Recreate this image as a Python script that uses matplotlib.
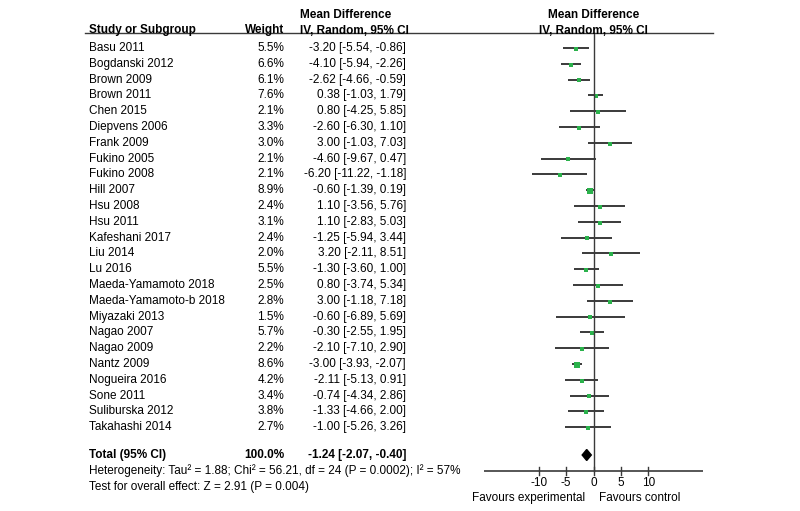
import matplotlib.pyplot as plt
from matplotlib.patches import Polygon

plt.rcParams['font.family'] = ['Liberation Sans', 'DejaVu Sans']

# study data
studies = ["Basu 2011", "Bogdanski 2012", "Brown 2009", "Brown 2011", "Chen 2015",
           "Diepvens 2006", "Frank 2009", "Fukino 2005", "Fukino 2008", "Hill 2007",
           "Hsu 2008", "Hsu 2011", "Kafeshani 2017", "Liu 2014", "Lu 2016",
           "Maeda-Yamamoto 2018", "Maeda-Yamamoto-b 2018", "Miyazaki 2013", "Nagao 2007",
           "Nagao 2009", "Nantz 2009", "Nogueira 2016", "Sone 2011", "Suliburska 2012",
           "Takahashi 2014"]
weights = [5.5, 6.6, 6.1, 7.6, 2.1, 3.3, 3.0, 2.1, 2.1, 8.9, 2.4, 3.1, 2.4, 2.0, 5.5,
           2.5, 2.8, 1.5, 5.7, 2.2, 8.6, 4.2, 3.4, 3.8, 2.7]
md = [-3.20, -4.10, -2.62, 0.38, 0.80, -2.60, 3.00, -4.60, -6.20, -0.60, 1.10, 1.10,
      -1.25, 3.20, -1.30, 0.80, 3.00, -0.60, -0.30, -2.10, -3.00, -2.11, -0.74, -1.33, -1.00]
lo = [-5.54, -5.94, -4.66, -1.03, -4.25, -6.30, -1.03, -9.67, -11.22, -1.39, -3.56, -2.83,
      -5.94, -2.11, -3.60, -3.74, -1.18, -6.89, -2.55, -7.10, -3.93, -5.13, -4.34, -4.66, -5.26]
hi = [-0.86, -2.26, -0.59, 1.79, 5.85, 1.10, 7.03, 0.47, -1.18, 0.19, 5.76, 5.03,
      3.44, 8.51, 1.00, 5.34, 7.18, 5.69, 1.95, 2.90, -2.07, 0.91, 2.86, 2.00, 3.26]

total_md, total_lo, total_hi = -1.24, -2.07, -0.40
ticks = [-10, -5, 0, 5, 10]

# layout in pixels / row units
W, H = 800, 511
y0, dy = 48, 15.8          # pixel y of first row, row spacing
ytop = -y0 / dy
ybot = (H - y0) / dy
total_row = (455 - y0) / dy
header_line = (33.5 - y0) / dy
axis_row = (471 - y0) / dy

fig = plt.figure(figsize=(W / 100, H / 100), dpi=100)

# text layer in pixel x, row-unit y
tx = fig.add_axes([0, 0, 1, 1])
tx.set_xlim(0, W)
tx.set_ylim(ybot, ytop)
tx.axis('off')

# forest layer
ax = fig.add_axes([484 / W, 0, (703 - 484) / W, 1])
ax.set_xlim(-20, 20)
ax.set_ylim(ybot, ytop)
ax.axis('off')

fs = 8.5
col_study, col_weight, col_ci = 89, 284, 406
line_col = '#3a3a3a'

def row_y(px):
    return (px - y0) / dy

# headers
tx.text(300, row_y(15), "Mean Difference", fontsize=fs, fontweight='bold', va='center')
tx.text(col_study, row_y(30.5), "Study or Subgroup", fontsize=fs, fontweight='bold', va='center')
tx.text(col_weight, row_y(30.5), "Weight", fontsize=fs, fontweight='bold', va='center', ha='right')
tx.text(300, row_y(30.5), "IV, Random, 95% CI", fontsize=fs, fontweight='bold', va='center')
ax.text(0, row_y(15), "Mean Difference", fontsize=fs, fontweight='bold', va='center', ha='center')
ax.text(0, row_y(30.5), "IV, Random, 95% CI", fontsize=fs, fontweight='bold', va='center', ha='center')
tx.plot([85, 713], [header_line, header_line], color=line_col, lw=1)

# study rows
for i, name in enumerate(studies):
    tx.text(col_study, i, name, fontsize=fs, va='center')
    tx.text(col_weight, i, f"{weights[i]:.1f}%", fontsize=fs, va='center', ha='right')
    tx.text(col_ci, i, f"{md[i]:.2f} [{lo[i]:.2f}, {hi[i]:.2f}]", fontsize=fs,
            va='center', ha='right')
    ax.plot([lo[i], hi[i]], [i, i], color=line_col, lw=1.4, solid_capstyle='butt')
    ax.plot(md[i], i + 0.05, marker='s', color='#2bb24c', ms=2.6 + 0.13 * weights[i], mew=0)

# total
tx.text(col_study, total_row, "Total (95% CI)", fontsize=fs, fontweight='bold', va='center')
tx.text(col_weight, total_row, "100.0%", fontsize=fs, fontweight='bold', va='center', ha='right')
tx.text(col_ci, total_row, f"{total_md:.2f} [{total_lo:.2f}, {total_hi:.2f}]",
        fontsize=fs, fontweight='bold', va='center', ha='right')
dh = 5.5 / dy
ax.add_patch(Polygon([[total_lo, total_row], [total_md, total_row - dh],
                      [total_hi, total_row], [total_md, total_row + dh]],
                     closed=True, color='black'))

tx.text(col_study, row_y(471), "Heterogeneity: Tau\u00b2 = 1.88; Chi\u00b2 = 56.21, df = 24 (P = 0.0002); I\u00b2 = 57%",
        fontsize=fs, va='center')
tx.text(col_study, row_y(487), "Test for overall effect: Z = 2.91 (P = 0.004)", fontsize=fs, va='center')

# zero line and x axis
ax.plot([0, 0], [header_line, axis_row], color=line_col, lw=1)
ax.plot([-20, 20], [axis_row, axis_row], color=line_col, lw=1.2)
tk = 4 / dy
for t in ticks:
    ax.plot([t, t], [axis_row - tk, axis_row + tk], color=line_col, lw=1)
    ax.text(t, row_y(483), str(t), fontsize=fs, ha='center', va='center')
ax.text(-1.5, row_y(498), "Favours experimental", fontsize=fs, ha='right', va='center')
ax.text(1.0, row_y(498), "Favours control", fontsize=fs, ha='left', va='center')

fig.savefig("out.png", dpi=100)
